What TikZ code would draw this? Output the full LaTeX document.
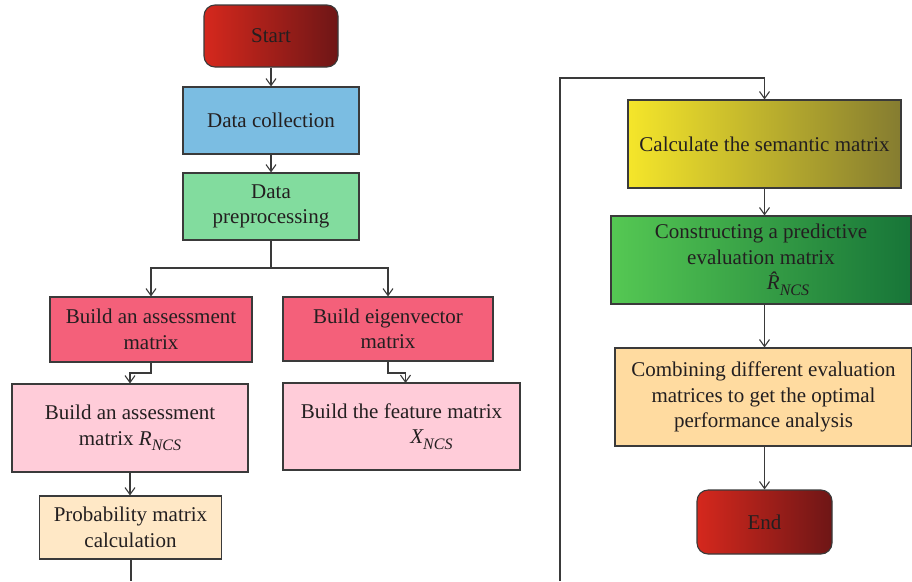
\documentclass[tikz,border=0pt]{standalone}
\usepackage{fontspec}
\setmainfont{Liberation Serif}
\usetikzlibrary{arrows.meta,calc}
\definecolor{txt}{HTML}{231F20}
\definecolor{ln}{HTML}{3A3A3A}
\definecolor{cblue}{HTML}{7BBDE2}
\definecolor{cgreen}{HTML}{82DC9E}
\definecolor{cred}{HTML}{F4607A}
\definecolor{cpink}{HTML}{FFCCD9}
\definecolor{cprob}{HTML}{FFE8C6}
\definecolor{ccomb}{HTML}{FFDBA0}
\definecolor{rl}{HTML}{D5281D}
\definecolor{rm}{HTML}{B82420}
\definecolor{rr}{HTML}{6E1616}
\definecolor{yl}{HTML}{F5E62A}
\definecolor{ym}{HTML}{E6DA02}
\definecolor{yr}{HTML}{857C30}
\definecolor{gl}{HTML}{55C853}
\definecolor{gm}{HTML}{2FB24A}
\definecolor{gr}{HTML}{177538}
\newcommand{\subNCS}{\raisebox{-0.28em}{\fontsize{16}{16}\selectfont\itshape NCS}}
\tikzset{
  box/.style={draw=ln, line width=1.1pt, align=center, text=txt, inner sep=2pt,
    font=\fontsize{21}{25.5}\selectfont},
  term/.style={box, rounded corners=11pt, left color=rl, middle color=rm, right color=rr},
  arr/.style={draw=ln, line width=1.1pt, -{Straight Barb[length=7pt,width=10pt]}},
  conn/.style={draw=ln, line width=1.1pt}
}
\begin{document}
\begin{tikzpicture}[x=1pt,y=-1pt]
\useasboundingbox (0,0) rectangle (912,581);
% left column
\node[term, minimum width=134pt, minimum height=62pt] (start) at (271,36) {Start};
\node[box, fill=cblue, minimum width=176pt, minimum height=67pt] (dc) at (271,120.5) {Data collection};
\node[box, fill=cgreen, minimum width=176pt, minimum height=67pt] (dp) at (271,206.5) {Data\\preprocessing};
\node[box, fill=cred, minimum width=202pt, minimum height=65pt] (ba) at (151,329.5) {Build an assessment\\matrix};
\node[box, fill=cred, minimum width=210pt, minimum height=64pt] (be) at (388,329) {Build eigenvector\\matrix};
\node[box, fill=cpink, minimum width=236pt, minimum height=88pt] (br) at (130,428) {Build an assessment\\matrix {\itshape R}\subNCS};
\node[box, fill=cpink, minimum width=237pt, minimum height=87pt] (bf) at (401.5,426.5) {Build the feature matrix\\\hspace*{60pt}{\itshape X}\subNCS};
\node[box, fill=cprob, minimum width=182pt, minimum height=63pt] (pm) at (130.5,527.5) {Probability matrix\\calculation};
% right column
\node[box, left color=yl, middle color=ym, right color=yr, minimum width=273pt, minimum height=88pt] (sem) at (764.5,144) {Calculate the semantic matrix};
\node[box, left color=gl, middle color=gm, right color=gr, minimum width=300pt, minimum height=88pt] (pred) at (761,260) {Constructing a predictive\\evaluation matrix\\\hspace*{54pt}{\itshape \^{R}}\subNCS};
\node[box, fill=ccomb, minimum width=297pt, minimum height=98pt] (comb) at (763.5,397) {Combining different evaluation\\matrices to get the optimal\\performance analysis};
\node[term, minimum width=135pt, minimum height=64pt] (end) at (764.5,522) {End};
% connectors
\coordinate (j1) at (271,268);
\coordinate (j2) at (151,373);
\coordinate (j3) at (388,373);
\coordinate (bfin) at (405.5,383);
\coordinate (pmout) at (131,581);
\coordinate (rcin) at (560,581);
\coordinate (rctop) at (560,78);
\draw[arr] (start) -- (dc);
\draw[arr] (dc) -- (dp);
\draw[conn] (dp.south) -- (j1);
\draw[arr] (j1) -| (ba.north);
\draw[arr] (j1) -| (be.north);
\draw[arr] (ba.south) -- (j2) -| (br.north);
\draw[arr] (be.south) -- (j3) -| (bfin);
\draw[arr] (br.south) -- (br.south |- pm.north);
\draw[conn] (pm.south -| pmout) -- (pmout);
\draw[arr] (rcin) -- (rctop) -| (sem.north);
\draw[arr] (sem.south) -- (sem.south |- pred.north);
\draw[arr] (sem.south |- pred.south) -- (sem.south |- comb.north);
\draw[arr] (sem.south |- comb.south) -- (sem.south |- end.north);
\end{tikzpicture}
\end{document}
